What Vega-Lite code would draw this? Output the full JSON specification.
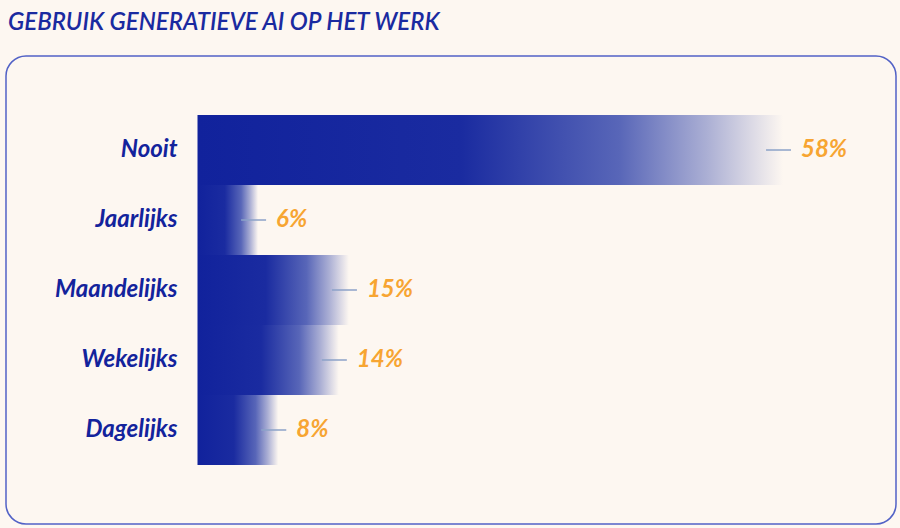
{
  "$schema": "https://vega.github.io/schema/vega-lite/v6.json",
  "width": 890,
  "height": 468,
  "autosize": {"type": "none"},
  "padding": {"left": 6, "top": 56, "right": 4, "bottom": 4},
  "background": "#fdf7f1",
  "title": {
    "text": "GEBRUIK GENERATIEVE AI OP HET WERK",
    "anchor": "start",
    "baseline": "alphabetic",
    "offset": 2,
    "dx": 2,
    "font": "Lato",
    "fontSize": 24,
    "fontStyle": "italic",
    "fontWeight": 600,
    "color": "#1a2aa0"
  },
  "config": {
    "view": {"stroke": "#5262c6", "strokeWidth": 1.5, "cornerRadius": 20, "fill": "#fdf7f1"}
  },
  "data": {
    "values": [
      {"categorie": "Nooit", "pct": 58, "label": "58%"},
      {"categorie": "Jaarlijks", "pct": 6, "label": "6%"},
      {"categorie": "Maandelijks", "pct": 15, "label": "15%"},
      {"categorie": "Wekelijks", "pct": 14, "label": "14%"},
      {"categorie": "Dagelijks", "pct": 8, "label": "8%"}
    ]
  },
  "encoding": {
    "y": {
      "field": "categorie",
      "type": "nominal",
      "sort": null,
      "axis": null,
      "scale": {"paddingInner": 0, "paddingOuter": 0.843}
    }
  },
  "layer": [
    {
      "mark": {
        "type": "bar",
        "color": {
          "gradient": "linear",
          "x1": 0, "y1": 0, "x2": 1, "y2": 0,
          "stops": [
            {"offset": 0, "color": "#11229c"},
            {"offset": 0.45, "color": "#1a2ba0"},
            {"offset": 0.72, "color": "#5866b8"},
            {"offset": 0.87, "color": "#abafd4"},
            {"offset": 1, "color": "#fdf7f1"}
          ]
        }
      },
      "encoding": {
        "x": {
          "field": "pct",
          "type": "quantitative",
          "axis": null,
          "scale": {"domain": [-18.97, 69.19], "nice": false, "zero": false}
        }
      }
    },
    {
      "mark": {"type": "rule", "color": "#8ca2c8", "strokeWidth": 1.5, "xOffset": -17, "x2Offset": 8},
      "encoding": {
        "x": {"field": "pct", "type": "quantitative"},
        "x2": {"field": "pct"}
      }
    },
    {
      "mark": {
        "type": "text",
        "align": "left",
        "baseline": "middle",
        "dx": 18,
        "font": "Lato",
        "fontSize": 24,
        "fontStyle": "italic",
        "fontWeight": "bold",
        "color": "#f7a532"
      },
      "encoding": {
        "x": {"field": "pct", "type": "quantitative"},
        "text": {"field": "label"}
      }
    },
    {
      "mark": {
        "type": "text",
        "align": "right",
        "baseline": "middle",
        "dx": -20,
        "font": "Lato",
        "fontSize": 24,
        "fontStyle": "italic",
        "fontWeight": "bold",
        "color": "#13239c"
      },
      "encoding": {
        "x": {"datum": 0, "type": "quantitative"},
        "text": {"field": "categorie"}
      }
    }
  ]
}
